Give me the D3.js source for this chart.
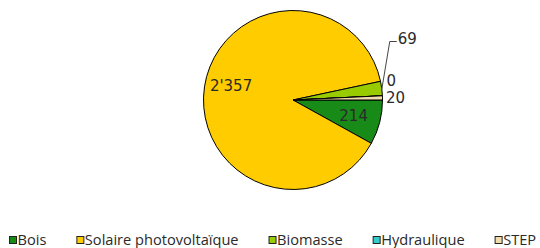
<!DOCTYPE html>
<html>
<head>
<meta charset="utf-8">
<script src="https://cdn.jsdelivr.net/npm/d3@7"></script>
<style>
  body { margin: 0; background: #fff; }
  .lbl { font-family: "DejaVu Sans", sans-serif; font-size: 15px; fill: #2a2a2a; }
  .legend text { font-family: "Open Sans", sans-serif; font-size: 14.6px; fill: #2a2a2a; }
</style>
</head>
<body>
<div id="chart"></div>
<script>
// --- data ---
const categories = ["Bois", "Solaire photovoltaïque", "Biomasse", "Hydraulique", "STEP"];
const values = [214, 2357, 69, 0, 20];
const colors = ["#188a18", "#ffcc00", "#99cc00", "#33cccc", "#f0dcaa"];

const width = 540, height = 248;
const cx = 293, cy = 100, radius = 89.5;

const fmt = v => d3.format(",")(v).replace(/,/g, "'");

const svg = d3.select("#chart").append("svg")
  .attr("width", width)
  .attr("height", height);

// pie starts at 3 o'clock, clockwise
const pie = d3.pie()
  .sort(null)
  .value(d => d.value)
  .startAngle(Math.PI / 2)
  .endAngle(Math.PI / 2 + 2 * Math.PI);

const data = categories.map((c, i) => ({ name: c, value: values[i], color: colors[i] }));
const arcs = pie(data);

const arc = d3.arc().innerRadius(0).outerRadius(radius);
const inLabel = d3.arc().innerRadius(radius * 0.7).outerRadius(radius * 0.7);
const outLabel = d3.arc().innerRadius(radius + 13).outerRadius(radius + 13);
const edge = d3.arc().innerRadius(radius).outerRadius(radius);

const g = svg.append("g").attr("transform", `translate(${cx},${cy})`);

g.selectAll("path.slice")
  .data(arcs)
  .enter().append("path")
  .attr("class", "slice")
  .attr("d", arc)
  .attr("fill", d => d.data.color)
  .attr("stroke", "#000")
  .attr("stroke-width", 1)
  .attr("stroke-linejoin", "round");

// labels: big slices inside, small ones outside
const labels = g.append("g");

arcs.forEach((d, i) => {
  const big = (d.endAngle - d.startAngle) > 0.3;
  if (big) {
    const [x, y] = inLabel.centroid(d);
    labels.append("text").attr("class", "lbl")
      .attr("x", x).attr("y", d.data.name === "Bois" ? y : y - 5)
      .attr("text-anchor", "middle").attr("dy", "0.35em")
      .text(fmt(d.data.value));
  }
});

// STEP: straight outside
const step = arcs[4];
const [sx, sy] = outLabel.centroid(step);
labels.append("text").attr("class", "lbl")
  .attr("x", sx).attr("y", sy)
  .attr("text-anchor", "middle").attr("dy", "0.35em")
  .text(fmt(step.data.value));

// Hydraulique: pushed up to avoid STEP label
const hyd = arcs[3];
const [hx, hy] = outLabel.centroid(hyd);
labels.append("text").attr("class", "lbl")
  .attr("x", hx - 4).attr("y", hy - 14)
  .attr("text-anchor", "middle").attr("dy", "0.35em")
  .text(fmt(hyd.data.value));

// Biomasse: moved up with a leader line
const bio = arcs[2];
const [ex, ey] = edge.centroid(bio);
const ly = ey - 47;
g.append("polyline")
  .attr("points", [[ex, ey + 1], [ex + 8, ly], [ex + 15, ly]].map(p => p.join(",")).join(" "))
  .attr("fill", "none")
  .attr("stroke", "#444")
  .attr("stroke-width", 1);
labels.append("text").attr("class", "lbl")
  .attr("x", ex + 16).attr("y", ly - 3)
  .attr("dy", "0.35em")
  .text(fmt(bio.data.value));

// --- legend ---
const legend = svg.append("g").attr("class", "legend")
  .attr("transform", `translate(9, 240)`);

let lx = 0;
data.forEach(d => {
  const item = legend.append("g").attr("transform", `translate(${lx},0)`);
  item.append("rect")
    .attr("x", 0.5).attr("y", -3.5)
    .attr("width", 7).attr("height", 7)
    .attr("fill", d.color)
    .attr("stroke", "#222").attr("stroke-width", 1);
  const t = item.append("text")
    .attr("x", 8.5).attr("dy", "0.35em")
    .text(d.name);
  lx += 8.5 + t.node().getComputedTextLength() + 30;
});
</script>
</body>
</html>
